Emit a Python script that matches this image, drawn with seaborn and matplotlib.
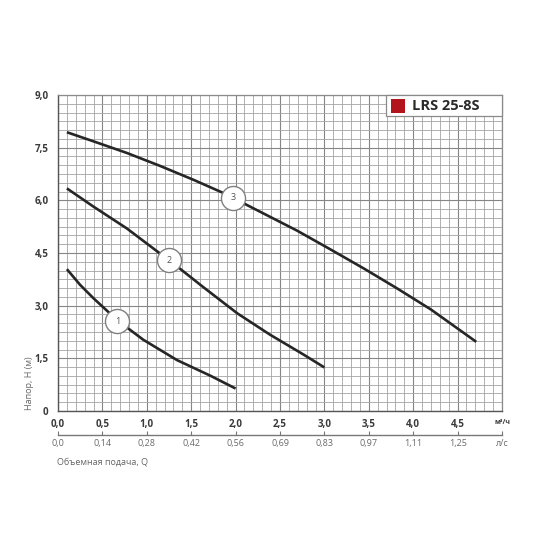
import matplotlib
matplotlib.use("Agg")
import matplotlib.pyplot as plt
import seaborn as sns
import pandas as pd
from matplotlib.patches import Rectangle
from matplotlib.ticker import MultipleLocator

# ---- data ----
q1 = [0.1, 0.25, 0.40, 0.55, 0.67, 0.96, 1.34, 1.72, 2.0]
h1 = [4.04, 3.59, 3.21, 2.86, 2.58, 2.03, 1.45, 1.00, 0.64]

q2 = [0.1, 0.40, 0.775, 1.11, 1.34, 1.64, 2.02, 2.39, 2.77, 3.0]
h2 = [6.34, 5.82, 5.20, 4.56, 4.12, 3.52, 2.78, 2.17, 1.60, 1.24]

q3 = [0.1, 0.40, 0.775, 1.15, 1.53, 1.87, 2.69, 3.07, 3.45, 3.82, 4.20, 4.71]
h3 = [7.94, 7.68, 7.35, 6.98, 6.58, 6.20, 5.14, 4.60, 4.05, 3.49, 2.89, 1.97]

label_q = [0.67, 1.25, 1.97]
label_h = [2.56, 4.30, 6.08]
label_text = ["1", "2", "3"]

x_ticks = [0.0, 0.5, 1.0, 1.5, 2.0, 2.5, 3.0, 3.5, 4.0, 4.5, 5.0]
x_labels = ["0,0", "0,5", "1,0", "1,5", "2,0", "2,5", "3,0", "3,5", "4,0", "4,5", "м³/ч"]
ls_labels = ["0,0", "0,14", "0,28", "0,42", "0,56", "0,69", "0,83", "0,97", "1,11", "1,25", "л/с"]
y_ticks = [0, 1.5, 3.0, 4.5, 6.0, 7.5, 9.0]
y_labels = ["0", "1,5", "3,0", "4,5", "6,0", "7,5", "9,0"]
legend_title = "LRS 25-8S"

df = pd.concat([
    pd.DataFrame({"Q": q1, "H": h1, "curve": "1"}),
    pd.DataFrame({"Q": q2, "H": h2, "curve": "2"}),
    pd.DataFrame({"Q": q3, "H": h3, "curve": "3"}),
])

sns.set_style("white")
plt.rcParams['font.family'] = ['Open Sans', 'DejaVu Sans']

fig = plt.figure(figsize=(5.5, 5.5), dpi=100)
ax = fig.add_axes([58/550, 1-411/550, 444/550, 316/550])

ax.set_xlim(0, 5.0)
ax.set_ylim(0, 9.0)

# grid
ax.xaxis.set_minor_locator(MultipleLocator(0.1))
ax.yaxis.set_minor_locator(MultipleLocator(0.25))
ax.set_xticks(x_ticks)
ax.set_yticks(y_ticks)
ax.grid(which="minor", color="#a4a4a4", lw=0.6)
ax.grid(which="major", color="#858585", lw=0.8)
ax.set_axisbelow(True)

sns.lineplot(data=df, x="Q", y="H", units="curve", estimator=None,
             color="#262626", lw=1.9, ax=ax, legend=False, sort=False)
for ln in ax.get_lines():
    ln.set_solid_joinstyle("round")
    ln.set_solid_capstyle("butt")

# curve labels
ax.scatter(label_q, label_h, s=300, facecolor="white", edgecolor="#808080",
           linewidth=1.0, zorder=5)
for q, h, t in zip(label_q, label_h, label_text):
    ax.text(q, h, t, ha="center", va="center", fontsize=6.5, color="#555555", zorder=6)

# tick labels
ax.set_xticklabels(x_labels)
ax.set_yticklabels(y_labels)
ax.tick_params(axis="both", which="both", length=0, labelcolor="#3a3a3a")
ax.tick_params(axis="x", pad=6)
ax.tick_params(axis="y", pad=7)
for lab in ax.get_xticklabels() + ax.get_yticklabels():
    lab.set_fontweight("bold")
    lab.set_fontsize(7)
ax.get_xticklabels()[-1].set_fontsize(5)
ax.set_xlabel("")
ax.set_ylabel("")

for sp in ["top", "right"]:
    ax.spines[sp].set_color("#8a8a8a")
    ax.spines[sp].set_linewidth(0.9)
for sp in ["left", "bottom"]:
    ax.spines[sp].set_color("#555555")
    ax.spines[sp].set_linewidth(1.0)

# secondary l/s axis
sec = ax.secondary_xaxis(-24/316)
sec.set_xticks(x_ticks)
sec.set_xticklabels(ls_labels)
sec.tick_params(axis="x", length=3, width=0.8, color="#777777", labelcolor="#6a6a6a",
                labelsize=6.5, pad=3, direction="in")
sec.spines["bottom"].set_color("#777777")
sec.spines["bottom"].set_linewidth(1.0)

# legend box
ax.add_patch(Rectangle((0.739, 0.9335), 0.261, 0.0665, transform=ax.transAxes,
                       facecolor="white", edgecolor="#8a8a8a", lw=0.9, zorder=7,
                       clip_on=False))
ax.add_patch(Rectangle((0.75, 0.943), 0.032, 0.044, transform=ax.transAxes,
                       facecolor="#b3141c", edgecolor="none", zorder=8, clip_on=False))
ax.text(0.797, 0.966, legend_title, transform=ax.transAxes, ha="left", va="center",
        fontsize=10.5, fontweight="bold", color="#2a2a2a", zorder=9)

# axis titles
fig.text(30/550, 1-410/550, "Напор, H (м)", rotation=90, ha="center", va="bottom",
         fontsize=6.5, color="#666666")
fig.text(57/550, 1-462/550, "Объемная подача, Q", ha="left", va="center",
         fontsize=6.5, color="#666666")

fig.savefig("out.png", dpi=100)
